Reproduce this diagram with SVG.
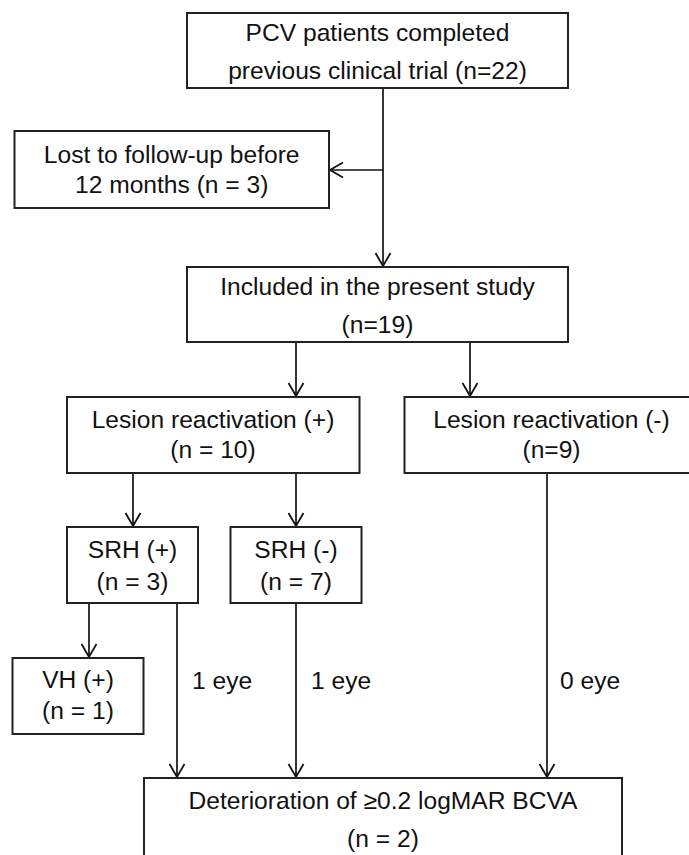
<svg xmlns="http://www.w3.org/2000/svg" width="689" height="855" viewBox="0 0 689 855">
<defs>
<style>
.box{fill:#fff;stroke:#222;stroke-width:2}
.t{font-family:"Liberation Sans",Arial,sans-serif;font-size:24.6px;fill:#111;text-anchor:middle}
.l{font-family:"Liberation Sans",Arial,sans-serif;font-size:24.6px;fill:#111}
.c{fill:none;stroke:#111;stroke-width:1.7}
</style>
<marker id="ah" markerUnits="userSpaceOnUse" markerWidth="20" markerHeight="20" viewBox="-15 -10 17 20" refX="0" refY="0" orient="auto">
<path d="M-13,-7.5 L0,0 L-13,7.5" fill="none" stroke="#111" stroke-width="1.8"/>
</marker>
</defs>
<rect width="689" height="855" fill="#fff"/>
<g id="connectors">
<line class="c" x1="383" y1="88" x2="383" y2="266" marker-end="url(#ah)"/>
<line class="c" x1="383" y1="170" x2="330" y2="170" marker-end="url(#ah)"/>
<line class="c" x1="296" y1="342" x2="296" y2="396" marker-end="url(#ah)"/>
<line class="c" x1="470" y1="342" x2="470" y2="396" marker-end="url(#ah)"/>
<line class="c" x1="133" y1="473" x2="133" y2="526" marker-end="url(#ah)"/>
<line class="c" x1="296" y1="473" x2="296" y2="526" marker-end="url(#ah)"/>
<line class="c" x1="89" y1="603" x2="89" y2="657" marker-end="url(#ah)"/>
<line class="c" x1="177" y1="603" x2="177" y2="777" marker-end="url(#ah)"/>
<line class="c" x1="296" y1="603" x2="296" y2="777" marker-end="url(#ah)"/>
<line class="c" x1="547" y1="473" x2="547" y2="777" marker-end="url(#ah)"/>
<text class="l" x="192" y="689">1 eye</text>
<text class="l" x="311" y="689">1 eye</text>
<text class="l" x="560" y="689">0 eye</text>
</g>
<g id="n-start">
<rect class="box" x="187" y="13" width="381" height="75"/>
<text class="t" x="377.5" y="41">PCV patients completed</text>
<text class="t" x="377.5" y="79">previous clinical trial (n=22)</text>
</g>
<g id="n-lost">
<rect class="box" x="14.5" y="131" width="314.5" height="77"/>
<text class="t" x="171.7" y="163">Lost to follow-up before</text>
<text class="t" x="171.7" y="193">12 months (n = 3)</text>
</g>
<g id="n-included">
<rect class="box" x="187" y="267" width="381" height="75"/>
<text class="t" x="377.5" y="295">Included in the present study</text>
<text class="t" x="377.5" y="333">(n=19)</text>
</g>
<g id="n-react-pos">
<rect class="box" x="67" y="397" width="292.5" height="76"/>
<text class="t" x="213" y="428">Lesion reactivation (+)</text>
<text class="t" x="213" y="458">(n = 10)</text>
</g>
<g id="n-react-neg">
<rect class="box" x="404.5" y="397" width="300" height="76"/>
<text class="t" x="551.5" y="428">Lesion reactivation (-)</text>
<text class="t" x="551.5" y="458">(n=9)</text>
</g>
<g id="n-srh-pos">
<rect class="box" x="67" y="527" width="131" height="76"/>
<text class="t" x="132.5" y="558">SRH (+)</text>
<text class="t" x="132.5" y="590">(n = 3)</text>
</g>
<g id="n-srh-neg">
<rect class="box" x="230.5" y="527" width="131" height="76"/>
<text class="t" x="296" y="558">SRH (-)</text>
<text class="t" x="296" y="590">(n = 7)</text>
</g>
<g id="n-vh">
<rect class="box" x="12.5" y="658" width="131" height="76"/>
<text class="t" x="78" y="688">VH (+)</text>
<text class="t" x="78" y="719">(n = 1)</text>
</g>
<g id="n-det">
<rect class="box" x="144" y="778" width="478" height="90"/>
<text class="t" x="383" y="809">Deterioration of ≥0.2 logMAR BCVA</text>
<text class="t" x="383" y="847">(n = 2)</text>
</g>
</svg>
